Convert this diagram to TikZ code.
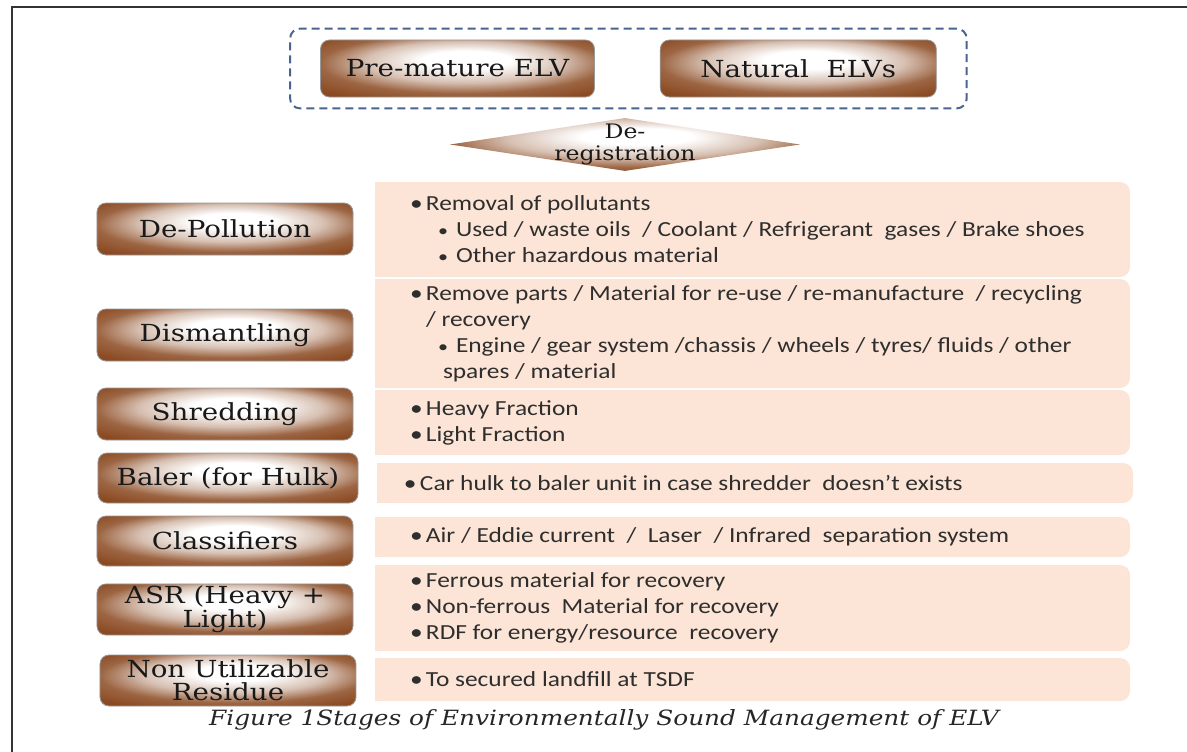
\documentclass[tikz,border=0pt]{standalone}
\usepackage{fontspec}
\setmainfont{Carlito}[FakeStretch=1.18]
\newfontfamily\stagefont{DejaVu Serif}[FakeStretch=1.18]
\usetikzlibrary{positioning,shapes.geometric,fit}
\definecolor{stagebrown}{HTML}{8B4A22}
\definecolor{panelfill}{HTML}{FCE5D6}
\definecolor{groupblue}{HTML}{4A6491}
\definecolor{framegray}{HTML}{333333}
\pgfdeclareradialshading{stageglow}{\pgfpoint{2bp}{9bp}}{color(0bp)=(white); color(8bp)=(white); color(18bp)=(stagebrown!35!white); color(26bp)=(stagebrown!85!white); color(34bp)=(stagebrown); color(50bp)=(stagebrown)}
\newcommand{\firstbul}{\makebox[16bp][l]{\textbullet}}
\newcommand{\secondbul}{\hspace*{28bp}\makebox[18bp][l]{{\fontsize{17bp}{17bp}\selectfont\textbullet}}}

\begin{document}
\begin{tikzpicture}[x=1bp, y=-1bp,
    stagebox/.style={shade, shading=stageglow, draw=black!40, line width=0.8bp, rounded corners=9bp, minimum width=256bp, minimum height=52bp, inner sep=2bp, align=center, text=black!90, font=\stagefont\fontsize{23.5bp}{23bp}\selectfont},
    panelbox/.style={fill=panelfill, rounded corners=10bp, minimum width=755bp, inner sep=0pt},
    paneltext/.style={anchor=west, inner sep=0pt, align=left, text=black!82, font=\fontsize{21.5bp}{26bp}\selectfont},
    groupbox/.style={draw=groupblue, line width=2bp, dash pattern=on 8bp off 5bp, rounded corners=10bp, inner xsep=30bp, inner ysep=11bp},
    regdiamond/.style={diamond, shade, shading=stageglow, minimum width=350bp, minimum height=53bp, inner sep=0pt},
    regtext/.style={align=center, inner sep=0pt, text=black!90, font=\stagefont\fontsize{20bp}{22bp}\selectfont},
    captiontext/.style={inner sep=0pt, text=black!85, font=\stagefont\itshape\fontsize{21bp}{24bp}\selectfont}]
  \useasboundingbox (0,0) rectangle (1187,752);
  \draw[framegray, line width=1.3bp] (12,752) |- (1187,7);

  % vehicles entering the system
  \node (pre) [stagebox, minimum width=274bp, minimum height=57bp] at (457.5,68.5) {Pre-mature ELV};
  \node (nat) [stagebox, minimum width=276bp, minimum height=57bp, right=65bp of pre] {Natural~ ELVs};
  \node (elvs) [groupbox, fit=(pre)(nat)] {};
  \node (dereg) [regdiamond] at (625,144.5) {};
  \node (deregtext) [regtext] at (dereg.center) {De-\\registration};

  % stages
  \node (depol) [stagebox] at (225,229) {De-Pollution};
  \node (dism)  [stagebox] at (225,335) {Dismantling};
  \node (shred) [stagebox] at (225,414) {Shredding};
  \node (baler) [stagebox, minimum width=260bp, minimum height=50bp] at (228,478) {Baler (for Hulk)};
  \node (class) [stagebox, minimum height=50bp] at (225,541) {Classifiers};
  \node (asr)   [stagebox, minimum height=51bp] at (225,609.5) {ASR (Heavy +\\Light)};
  \node (resid) [stagebox, minimum height=51bp] at (228,680.5) {Non Utilizable\\Residue};

  % details
  \node (p1) [panelbox, minimum height=95bp] at (752.5,229.5) {};
  \node (p2) [panelbox, minimum height=109bp] at (752.5,333.5) {};
  \node (p3) [panelbox, minimum height=65bp] at (752.5,422.5) {};
  \node (p4) [panelbox, minimum width=756bp, minimum height=40bp] at (755,483) {};
  \node (p5) [panelbox, minimum height=40bp] at (752.5,537) {};
  \node (p6) [panelbox, minimum height=86bp] at (752.5,608) {};
  \node (p7) [panelbox, minimum height=43bp] at (752.5,679.5) {};
  \foreach \p in {p1,p2,p3,p4,p5,p6,p7}
    \fill[panelfill] (\p.north west) rectangle ([xshift=12bp]\p.south west);

  \node (t1) [paneltext] at ([xshift=35bp]p1.west) {\firstbul Removal of pollutants\\
    \secondbul Used / waste oils~ / Coolant / Refrigerant~ gases / Brake shoes\\
    \secondbul Other hazardous material};
  \node (t2) [paneltext] at ([xshift=35bp]p2.west) {\firstbul Remove parts / Material for re-use / re-manufacture~ / recycling\\
    \hspace*{16bp}/ recovery\\
    \secondbul Engine / gear system /chassis / wheels / tyres/ fluids / other\\
    \hspace*{33bp}spares / material};
  \node (t3) [paneltext] at ([xshift=35bp]p3.west) {\firstbul Heavy Fraction\\ \firstbul Light Fraction};
  \node (t4) [paneltext] at ([xshift=27bp]p4.west) {\firstbul Car hulk to baler unit in case shredder~ doesn't exists};
  \node (t5) [paneltext] at ([xshift=35bp]p5.west) {\firstbul Air / Eddie current~ /~ Laser~ / Infrared~ separation system};
  \node (t6) [paneltext] at ([xshift=35bp]p6.west) {\firstbul Ferrous material for recovery\\
    \firstbul Non-ferrous~ Material for recovery\\
    \firstbul RDF for energy/resource~ recovery};
  \node (t7) [paneltext] at ([xshift=35bp]p7.west) {\firstbul To secured landfill at TSDF};

  \node (caption) [captiontext] at (604,720) {Figure 1Stages of Environmentally Sound Management of ELV};
\end{tikzpicture}
\end{document}
